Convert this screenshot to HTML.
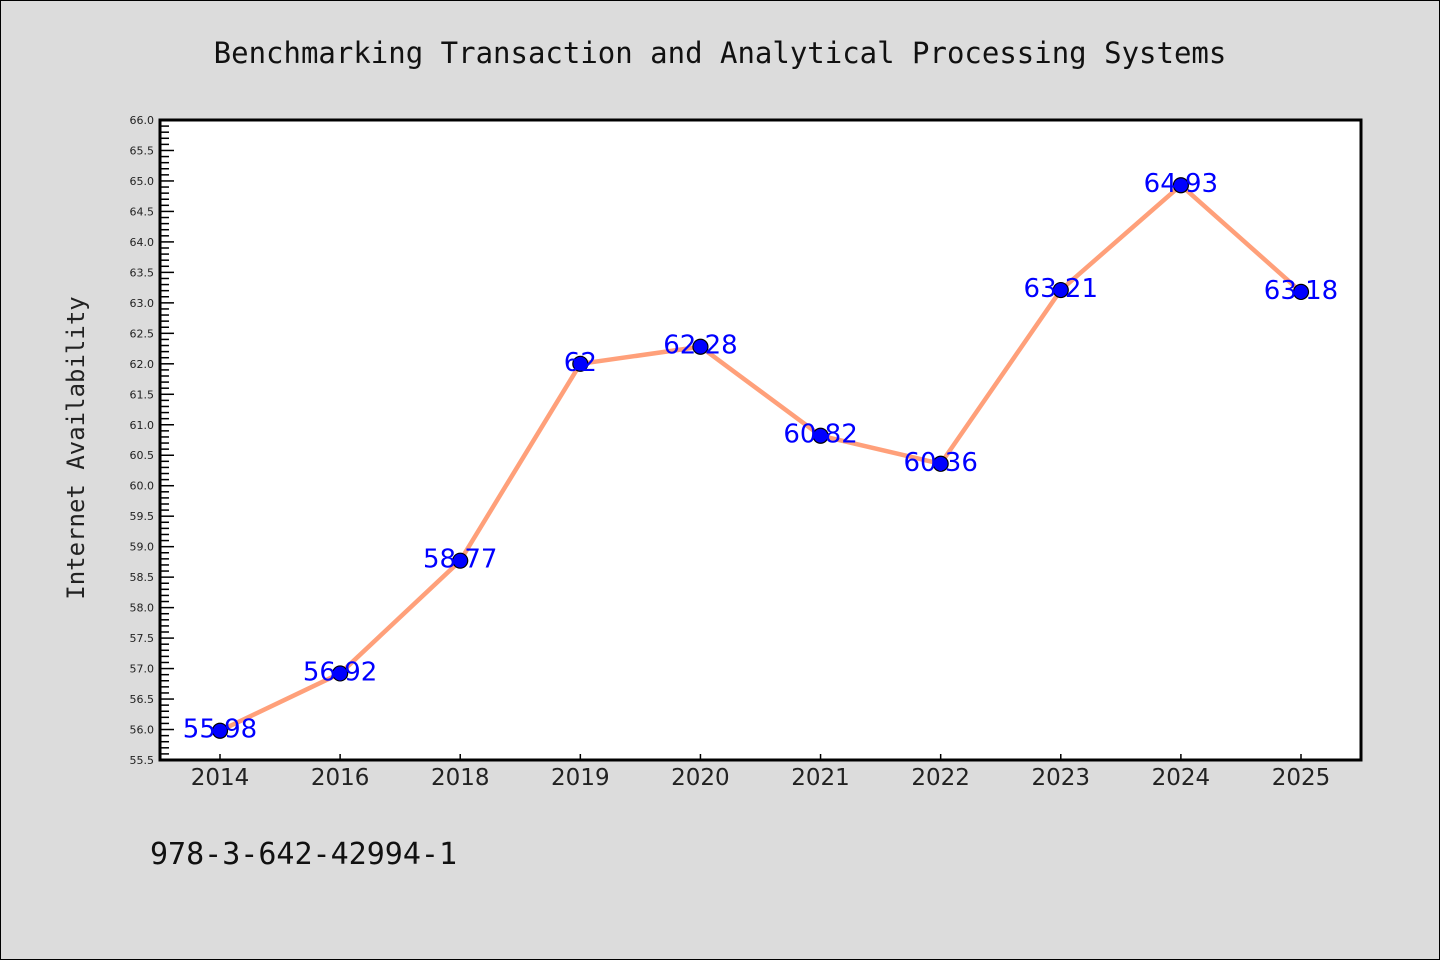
<!DOCTYPE html>
<html><head><meta charset="utf-8"><style>
html,body{margin:0;padding:0;background:#dcdcdc;}
svg{display:block;font-family:"DejaVu Sans","Liberation Sans",sans-serif;}
</style></head><body>
<svg id="chart" width="1440" height="960" xmlns="http://www.w3.org/2000/svg">
<rect x="0.5" y="0.5" width="1439" height="959" fill="#dcdcdc" stroke="#000" stroke-width="1"/>
<text x="720" y="63" text-anchor="middle" font-size="29" font-family="'DejaVu Sans Mono','Liberation Mono',monospace" fill="#111">Benchmarking Transaction and Analytical Processing Systems</text>
<rect x="160" y="120" width="1201" height="640" fill="#fff"/>
<g id="yticks"></g>
<g id="xticks"></g>
<g id="series"></g>
<rect x="160" y="120" width="1201" height="640" fill="none" stroke="#000" stroke-width="3"/>
<text transform="translate(84,448) rotate(-90)" text-anchor="middle" font-size="24" font-family="'DejaVu Sans Mono','Liberation Mono',monospace" fill="#222">Internet Availability</text>
<text x="150" y="864" font-size="30" fill="#111" font-family="'DejaVu Sans Mono','Liberation Mono',monospace">978-3-642-42994-1</text>
</svg>
<script>
const categories = ["2014","2016","2018","2019","2020","2021","2022","2023","2024","2025"];
const values = [55.98, 56.92, 58.77, 62, 62.28, 60.82, 60.36, 63.21, 64.93, 63.18];
const valueLabels = ["55.98","56.92","58.77","62","62.28","60.82","60.36","63.21","64.93","63.18"];
const yMin = 55.5, yMax = 66.0;
const NS = "http://www.w3.org/2000/svg";
const L = 160, R = 1361, T = 120, B = 760;
function xPos(i){ return 220 + i * (R - L - 120) / (categories.length - 1); }
function yPos(v){ return B - (v - yMin) / (yMax - yMin) * (B - T); }
function mk(tag, attrs, parent){ const e = document.createElementNS(NS, tag); for (const k in attrs) e.setAttribute(k, attrs[k]); parent.appendChild(e); return e; }
const yg = document.getElementById('yticks');
for (let k = 0; k <= Math.round((yMax - yMin) * 10); k++) {
  const v = yMin + k / 10;
  const y = yPos(v);
  const major = k % 5 === 0;
  const t = mk('line', {x1: L, x2: L + (major ? 14 : 9), y1: y, y2: y, stroke: '#000', 'stroke-width': 1.5}, yg);
  
  
  if (major) {
    const lb = mk('text', {x: L - 6, y: y + 4, 'text-anchor': 'end', 'font-size': 11, fill: '#222'}, yg);
    lb.textContent = v.toFixed(1);
    
    
  }
}
const xg = document.getElementById('xticks');
categories.forEach((c, i) => {
  const x = xPos(i);
  const t = mk('line', {x1: x, x2: x, y1: B, y2: B - 6, stroke: '#000', 'stroke-width': 1.5}, xg);
  
  
  const lb = mk('text', {x: x, y: 785, 'text-anchor': 'middle', 'font-size': 23, fill: '#222'}, xg);
  lb.textContent = c;
  
  
});
const sg = document.getElementById('series');
const pts = values.map((v, i) => xPos(i) + ',' + yPos(v)).join(' ');
const pl = mk('polyline', {points: pts, fill: 'none', stroke: '#FFA07A', 'stroke-width': 4.5, 'stroke-linejoin': 'round'}, sg);


values.forEach((v, i) => {
  const c = mk('circle', {cx: xPos(i), cy: yPos(v), r: 7.5, fill: '#0000ff', stroke: '#000', 'stroke-width': 1.2}, sg);
  
  
});
values.forEach((v, i) => {
  const t = mk('text', {x: xPos(i), y: yPos(v) + 7, 'text-anchor': 'middle', 'font-size': 26, fill: '#0000ff'}, sg);
  t.textContent = valueLabels[i];
  
  
});
</script>
</body></html>
